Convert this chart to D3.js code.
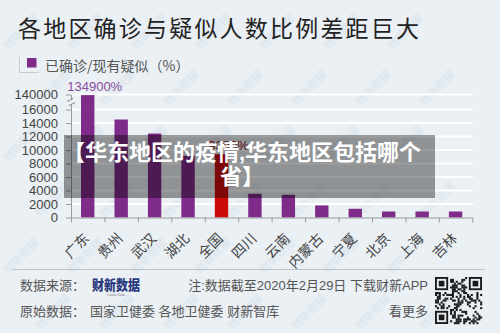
<!DOCTYPE html>
<html>
<head>
<meta charset="utf-8">
<script src="https://cdn.jsdelivr.net/npm/d3@7"></script>
<style>
  html, body { margin: 0; padding: 0; background: #eaf0f4; }
  svg { display: block; }
  text { font-family: "Liberation Sans", "Noto Sans CJK SC", sans-serif; }
  .cjk { font-family: "Noto Sans CJK SC", "Liberation Sans", sans-serif; }
</style>
</head>
<body>
<svg id="chart" width="500" height="333"></svg>
<script>
// Regions and their confirmed-to-suspected ratio (%)
const regions = ["广东", "贵州", "武汉", "湖北", "全国", "四川", "云南", "内蒙古", "宁夏", "北京", "上海", "吉林"];
const ratios = [134900, 14530, 12450, 9150, 9380, 3520, 3380, 1790, 1290, 890, 890, 890];
const highlighted = ["全国"];
const labelled = ["广东", "全国"];
// Broken value axis: regular steps up to 16000, then a jump to 140000
const yTicks = [0, 2000, 4000, 6000, 8000, 10000, 12000, 14000, 16000, 140000];

const svg = d3.select("#chart");
const bg = "#eaf0f4";
const purple = "#7e2b89";
const red = "#cc0a0a";

// faint diagonal watermark, kept inside the canvas
const wm = svg.append("g").attr("class", "cjk").attr("fill", "#d6e0e9").attr("font-size", 11).attr("font-weight", 700);
for (let r = 0; r < 7; r++) {
  for (let c = 0; c < 9; c++) {
    const x = c * 64 + (r % 2) * 32 + 8;
    const y = r * 56 + 50;
    if (x < 5 || x > 455 || y > 330) continue;
    wm.append("text").attr("transform", `translate(${x},${y}) rotate(-45)`).attr("opacity", 0.5).text("财新数据");
  }
}

// title
svg.append("text").attr("class", "cjk")
  .attr("x", 18).attr("y", 37)
  .attr("font-size", 23).attr("letter-spacing", 2.2).attr("fill", "#222")
  .text("各地区确诊与疑似人数比例差距巨大");

// legend
const lg = svg.append("g");
lg.append("line").attr("x1", 19.5).attr("x2", 19.5).attr("y1", 57).attr("y2", 72)
  .attr("stroke", "#aaa").attr("stroke-dasharray", "1,1");
lg.append("line").attr("x1", 19.5).attr("x2", 39).attr("y1", 72.5).attr("y2", 72.5)
  .attr("stroke", "#aaa").attr("stroke-dasharray", "1,1");
lg.append("rect").attr("x", 27).attr("y", 58).attr("width", 9.5).attr("height", 9.5).attr("fill", purple);
lg.append("text").attr("class", "cjk").attr("x", 45).attr("y", 71)
  .attr("font-size", 14).attr("fill", "#555").text("已确诊/现有疑似（%）");

// scales
const left = 71, right = 472.3;
const x = d3.scaleBand().domain(regions).range([left, right]).paddingInner(0.6).paddingOuter(0.3);
const xb = d3.scaleLinear().domain([0, regions.length]).range([left, right]);
const y = d3.scaleLinear().domain([0, 16000, 140000]).range([217.5, 109.6, 94.5]);

// gridlines
svg.append("g").selectAll("line").data(yTicks.filter(d => d > 0)).join("line")
  .attr("x1", left).attr("x2", 473)
  .attr("y1", d => y(d)).attr("y2", d => y(d))
  .attr("stroke", "#ffffff").attr("stroke-width", 2);

// bars
svg.append("g").selectAll("rect").data(regions).join("rect")
  .attr("x", d => x(d))
  .attr("width", x.bandwidth())
  .attr("y", (d, i) => y(ratios[i]))
  .attr("height", (d, i) => y(0) - y(ratios[i]))
  .attr("fill", d => highlighted.includes(d) ? red : purple);

// value labels
svg.append("g").selectAll("text").data(regions.filter(d => labelled.includes(d))).join("text")
  .attr("x", d => x(d) + x.bandwidth() / 2 + 7)
  .attr("y", d => y(ratios[regions.indexOf(d)]) - 4)
  .attr("text-anchor", "middle")
  .attr("font-size", 13)
  .attr("fill", d => highlighted.includes(d) ? "#9a1010" : "#8a4d9c")
  .text(d => ratios[regions.indexOf(d)] + "%");

// y axis
const yAxis = svg.append("g").attr("transform", `translate(${left},0)`)
  .call(d3.axisLeft(y).tickValues(yTicks).tickSize(5).tickPadding(8).tickFormat(d3.format("d")).tickSizeOuter(0));
yAxis.select(".domain").attr("stroke", "#9a9a9a");
yAxis.selectAll(".tick line").attr("stroke", "#9a9a9a");
yAxis.selectAll(".tick text").attr("font-size", 13).attr("fill", "#444")
  .attr("font-family", "Liberation Sans, sans-serif");

// axis break mark
const bY = (y(16000) + y(140000)) / 2;
yAxis.append("rect").attr("x", -3).attr("y", bY - 2).attr("width", 6).attr("height", 4).attr("fill", bg);
yAxis.append("path").attr("d", `M-4,${bY - 0.5} L2,${bY - 3.5} M-2,${bY + 3.5} L4,${bY + 0.5}`)
  .attr("stroke", "#888").attr("fill", "none");

// x axis: boundary ticks
const xAxis = svg.append("g").attr("transform", `translate(0,${y(0)})`)
  .call(d3.axisBottom(xb).tickValues(d3.range(regions.length + 1)).tickSize(5).tickFormat("").tickSizeOuter(0));
xAxis.select(".domain").attr("stroke", "#9a9a9a");
xAxis.selectAll(".tick line").attr("stroke", "#9a9a9a");

// x labels, rotated
svg.append("g").attr("class", "cjk").selectAll("text").data(regions).join("text")
  .attr("transform", d => `translate(${x(d) + x.bandwidth() / 2 - 1},236) rotate(-45)`)
  .attr("text-anchor", "end").attr("dy", "0.35em")
  .attr("font-size", 14).attr("fill", "#444")
  .text(d => d);

// headline banner across the plot
svg.append("rect").attr("x", 64).attr("y", 135).attr("width", 371).attr("height", 63)
  .attr("fill", "rgba(0,0,0,0.39)");
const banner = svg.append("g").attr("class", "cjk").attr("fill", "#ffffff")
  .attr("font-size", 22).attr("font-weight", 700).attr("text-anchor", "middle");
banner.append("text").attr("x", 242).attr("y", 160).text("【华东地区的疫情,华东地区包括哪个");
banner.append("text").attr("x", 242).attr("y", 184).text("省】");

// footer
svg.append("line").attr("x1", 12).attr("x2", 485).attr("y1", 269.5).attr("y2", 269.5)
  .attr("stroke", "#bcc2c6");
const ft = svg.append("g").attr("class", "cjk").attr("font-size", 13).attr("fill", "#555");
ft.append("text").attr("x", 20).attr("y", 290).text("数据来源：");
ft.append("text").attr("x", 20).attr("y", 316).text("原始数据：");
ft.append("text").attr("x", 90).attr("y", 316).text("国家卫健委 各地卫健委 财新智库");
ft.append("text").attr("x", 428).attr("y", 290).attr("text-anchor", "end").text("注:数据截至2020年2月29日 下载财新APP");
ft.append("text").attr("x", 428).attr("y", 316).attr("text-anchor", "end").text("看更多");

// source logo
svg.append("text").attr("class", "cjk").attr("x", 92).attr("y", 290)
  .attr("font-size", 14).attr("font-weight", 900).attr("fill", "#2b3a7e")
  .attr("textLength", 48).attr("lengthAdjust", "spacingAndGlyphs").text("财新数据");
svg.append("text").attr("x", 116).attr("y", 296).attr("text-anchor", "middle")
  .attr("font-size", 3.5).attr("fill", "#777").text("Caixin Data");

// QR code block
const qr = svg.append("g").attr("transform", "translate(435,277)");
const n = 25, m = 47 / n;
const cells = [];
for (let i = 0; i < n; i++) for (let j = 0; j < n; j++) {
  const inFinder = (i < 8 && j < 8) || (i < 8 && j >= n - 8) || (i >= n - 8 && j < 8);
  if (inFinder) continue;
  if (((i * 31 + j * 17) ^ (i * j * 7 + 3)) % 5 < 2) cells.push([i, j]);
}
qr.selectAll("rect.m").data(cells).join("rect").attr("class", "m")
  .attr("x", d => d[1] * m).attr("y", d => d[0] * m)
  .attr("width", m + 0.2).attr("height", m + 0.2).attr("fill", "#1a1a1a");
[[0, 0], [0, n - 7], [n - 7, 0]].forEach(([r, c]) => {
  qr.append("rect").attr("x", c * m + m / 2).attr("y", r * m + m / 2)
    .attr("width", 6 * m).attr("height", 6 * m).attr("fill", "none")
    .attr("stroke", "#1a1a1a").attr("stroke-width", m);
  qr.append("rect").attr("x", (c + 2) * m).attr("y", (r + 2) * m)
    .attr("width", 3 * m).attr("height", 3 * m).attr("fill", "#1a1a1a");
});
</script>
</body>
</html>
